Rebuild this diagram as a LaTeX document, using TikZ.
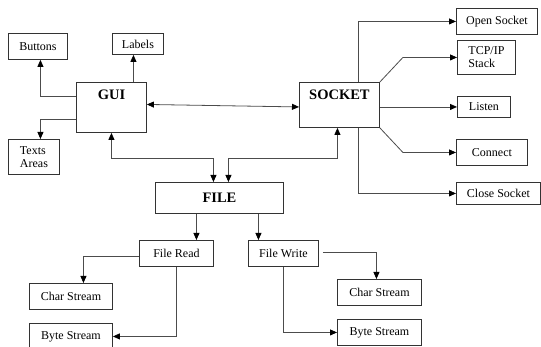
\documentclass[tikz,border=0pt]{standalone}
\usepackage{fontspec}
\setmainfont{Liberation Serif}
\usetikzlibrary{arrows.meta}
\begin{document}
\begin{tikzpicture}[x=1pt,y=-1pt,
  box/.style={draw=black!80,line width=0.9pt,anchor=north west,inner sep=0pt,
    font=\fontsize{12}{13}\selectfont,align=left},
  ttl/.style={font=\fontsize{14.5}{16}\selectfont\bfseries,anchor=north,inner sep=0pt},
  con/.style={draw=black!70,line width=0.8pt},
  arr/.style={con,-{Triangle[length=7pt,width=6pt,color=black]}},
  darr/.style={con,{Triangle[length=7pt,width=6pt,color=black]}-{Triangle[length=7pt,width=6pt,color=black]}}
]
\useasboundingbox (0,0) rectangle (541,347);
\clip (0,0) rectangle (541,347);
% left group
\node[box,minimum width=59pt,minimum height=26pt] (buttons) at (8,33) {Buttons};
\node[box,minimum width=51pt,minimum height=21pt] (labels) at (112,33) {Labels};
\node[box,minimum width=70pt,minimum height=50pt] (gui) at (76,82) {};
\node[ttl] (guit) at ([yshift=-8pt]gui.north) {GUI};
\node[box,minimum width=51pt,minimum height=35pt] (texts) at (8,139) {Texts\\Areas};
% socket group
\node[box,minimum width=80pt,minimum height=45pt] (socket) at (299,82) {};
\node[ttl] (sockt) at ([yshift=-8pt]socket.north) {SOCKET};
\node[box,minimum width=81pt,minimum height=26pt] (open) at (456,8) {Open Socket};
\node[box,minimum width=58pt,minimum height=34pt] (tcp) at (457,40) {TCP/IP\\Stack};
\node[box,minimum width=53pt,minimum height=21pt] (listen) at (457,96) {Listen};
\node[box,minimum width=71pt,minimum height=26pt] (connect) at (456,139) {Connect};
\node[box,minimum width=84pt,minimum height=22pt] (close) at (456,182) {Close Socket};
% file group
\node[box,minimum width=128pt,minimum height=31pt,font=\fontsize{14.5}{16}\selectfont\bfseries] (file) at (155,182) {FILE};
\node[box,minimum width=74pt,minimum height=26pt] (fread) at (139,240) {File Read};
\node[box,minimum width=70pt,minimum height=26pt] (fwrite) at (248,240) {File Write};
\node[box,minimum width=83pt,minimum height=26pt] (charL) at (29,283) {Char Stream};
\node[box,minimum width=83pt,minimum height=26pt] (byteL) at (29,323) {Byte Stream};
\node[box,minimum width=84pt,minimum height=26pt] (charR) at (337,279) {Char Stream};
\node[box,minimum width=84pt,minimum height=26pt] (byteR) at (337,319) {Byte Stream};
\coordinate (j1) at (0,158);
% GUI connectors
\draw[arr] ([yshift=11pt]gui.west) -| ([xshift=2.5pt]buttons.south);
\draw[arr] ([xshift=22pt]gui.north) -- ([xshift=22pt]gui.north |- labels.south);
\draw[arr] ([yshift=-12pt]gui.west) -| ([xshift=6.5pt]texts.north);
\draw[darr] ([yshift=3pt]gui.east) -- ([yshift=-2pt]socket.west);
\draw[darr] (gui.south) |- ([xshift=-6pt]file.north |- j1) -- ([xshift=-6pt]file.north);
\draw[darr] ([xshift=-2pt]socket.south) |- ([xshift=9pt]file.north |- j1) -- ([xshift=9pt]file.north);
% SOCKET connectors
\draw[arr] ([xshift=19pt]socket.north) |- (open.west);
\draw[arr] (socket.north east) -- ([xshift=23pt]socket.north east |- tcp.west) -- (tcp.west);
\draw[arr] (socket.east |- listen.west) -- (listen.west);
\draw[arr] (socket.south east) -- ([xshift=23pt]socket.south east |- connect.west) -- (connect.west);
\draw[arr] ([xshift=19pt]socket.south) |- (close.west);
% FILE connectors
\draw[arr] ([xshift=-23pt]file.south) -- ([xshift=-23pt]file.south |- fread.north);
\draw[arr] ([xshift=39pt]file.south) -- ([xshift=39pt]file.south |- fwrite.north);
\draw[arr] ([yshift=-3pt]fread.west) -| ([xshift=12.5pt]charL.north);
\draw[arr] (fread.south) |- (byteL.east);
\draw[arr] ([xshift=4pt,yshift=1pt]fwrite.east) -| ([xshift=-3pt]charR.north);
\draw[arr] (fwrite.south) |- (byteR.west);
\end{tikzpicture}
\end{document}
